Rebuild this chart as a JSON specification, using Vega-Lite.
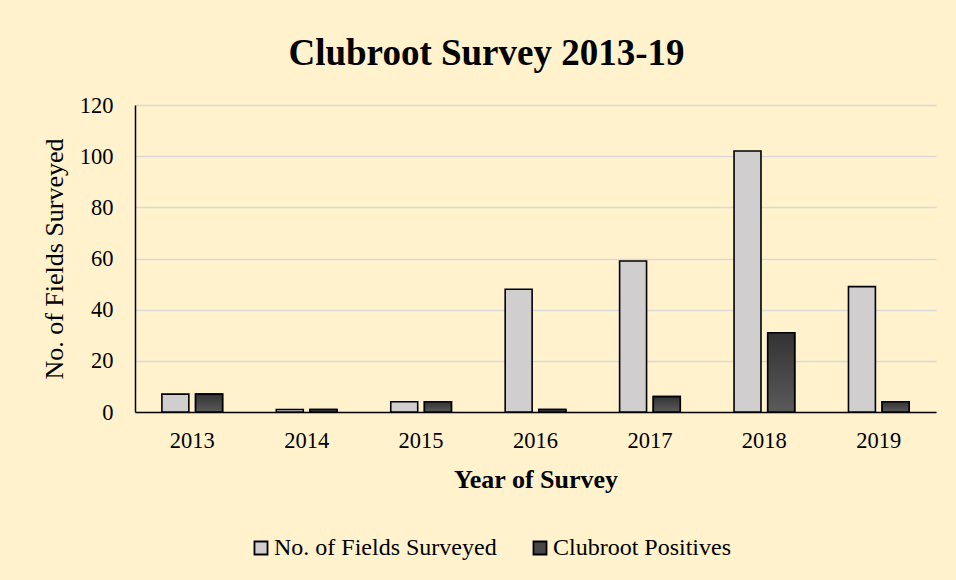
{
  "$schema": "https://vega.github.io/schema/vega-lite/v6.json",
  "width": 801,
  "height": 307,
  "autosize": {"type": "none"},
  "padding": {"left": 135, "top": 105, "right": 20, "bottom": 168},
  "background": "#FFF2CC",
  "config": {
    "view": {"stroke": null},
    "font": "Liberation Serif"
  },
  "title": {
    "text": "Clubroot Survey 2013-19",
    "font": "Liberation Serif",
    "fontSize": 37,
    "fontWeight": "bold",
    "color": "#000000",
    "anchor": "middle",
    "dx": -49,
    "offset": 21
  },
  "data": {
    "values": [
      {"year": "2013", "series": "No. of Fields Surveyed", "value": 7},
      {"year": "2013", "series": "Clubroot Positives", "value": 7},
      {"year": "2014", "series": "No. of Fields Surveyed", "value": 1},
      {"year": "2014", "series": "Clubroot Positives", "value": 1},
      {"year": "2015", "series": "No. of Fields Surveyed", "value": 4},
      {"year": "2015", "series": "Clubroot Positives", "value": 4},
      {"year": "2016", "series": "No. of Fields Surveyed", "value": 48},
      {"year": "2016", "series": "Clubroot Positives", "value": 1},
      {"year": "2017", "series": "No. of Fields Surveyed", "value": 59},
      {"year": "2017", "series": "Clubroot Positives", "value": 6},
      {"year": "2018", "series": "No. of Fields Surveyed", "value": 102},
      {"year": "2018", "series": "Clubroot Positives", "value": 31},
      {"year": "2019", "series": "No. of Fields Surveyed", "value": 49},
      {"year": "2019", "series": "Clubroot Positives", "value": 4}
    ]
  },
  "encoding": {
    "x": {
      "field": "year",
      "type": "nominal",
      "scale": {"paddingInner": 0.47, "paddingOuter": 0.235},
      "axis": {
        "title": "Year of Survey",
        "titleFont": "Liberation Serif",
        "titleFontSize": 26,
        "titleFontWeight": "bold",
        "titleColor": "#000000",
        "titlePadding": 15,
        "labelFont": "Liberation Serif",
        "labelFontSize": 22.5,
        "labelColor": "#000000",
        "labelAngle": 0,
        "labelPadding": 17,
        "ticks": false,
        "tickSize": 0,
        "domainColor": "#000000",
        "domainWidth": 1.5
      }
    },
    "xOffset": {
      "field": "series",
      "type": "nominal",
      "scale": {"domain": ["No. of Fields Surveyed", "Clubroot Positives"], "paddingInner": 0.2, "paddingOuter": 0}
    },
    "y": {
      "field": "value",
      "type": "quantitative",
      "scale": {"domain": [0, 120], "nice": false},
      "axis": {
        "title": "No. of Fields Surveyed",
        "titleFont": "Liberation Serif",
        "titleFontSize": 26,
        "titleFontWeight": "normal",
        "titleColor": "#000000",
        "titlePadding": 12,
        "values": [0, 20, 40, 60, 80, 100, 120],
        "labelFont": "Liberation Serif",
        "labelFontSize": 22.5,
        "labelColor": "#000000",
        "labelPadding": 22,
        "ticks": false,
        "tickSize": 0,
        "domainColor": "#000000",
        "domainWidth": 1.5,
        "gridColor": "#D9D9D9",
        "gridWidth": 1.5
      }
    }
  },
  "layer": [
    {
      "mark": {"type": "bar", "stroke": "#000000", "strokeWidth": 1.6},
      "encoding": {
        "color": {
          "field": "series",
          "type": "nominal",
          "scale": {"domain": ["No. of Fields Surveyed", "Clubroot Positives"], "range": ["#D0CECE", "#474747"]},
          "legend": {
            "title": null,
            "orient": "none",
            "direction": "horizontal",
            "legendX": 114,
            "legendY": 431,
            "symbolType": "square",
            "symbolSize": 170,
            "symbolStrokeColor": "#000000",
            "symbolStrokeWidth": 1.8,
            "symbolOpacity": 1,
            "labelFont": "Liberation Serif",
            "labelFontSize": 24,
            "labelColor": "#000000",
            "labelOffset": 1,
            "columnPadding": 31,
            "labelLimit": 400
          }
        }
      }
    },
    {
      "transform": [{"filter": "datum.series === 'Clubroot Positives'"}],
      "mark": {
        "type": "bar",
        "stroke": "#000000",
        "strokeWidth": 1.6,
        "fill": {
          "gradient": "linear",
          "x1": 0, "y1": 0, "x2": 0, "y2": 1,
          "stops": [
            {"offset": 0, "color": "#333333"},
            {"offset": 1, "color": "#5A5A5A"}
          ]
        }
      }
    }
  ]
}
